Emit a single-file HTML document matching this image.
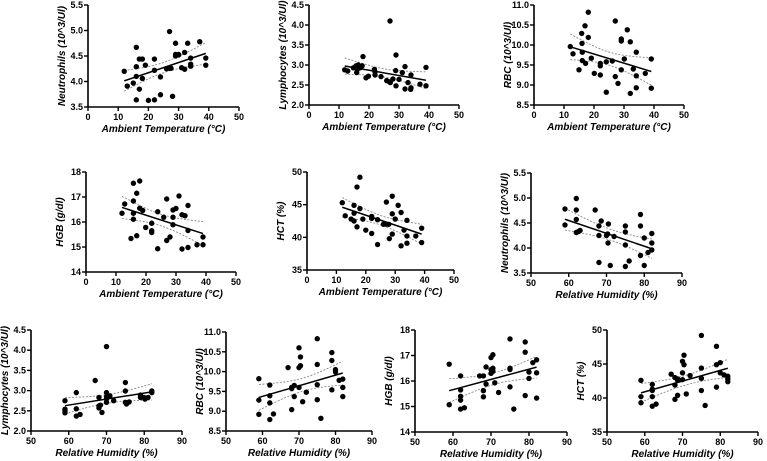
<!DOCTYPE html>
<html><head><meta charset="utf-8">
<style>
html,body{margin:0;padding:0;background:#fff;width:767px;height:461px;overflow:hidden}
svg{display:block}
text{font-family:"Liberation Sans",Arial,sans-serif;fill:#000}
.tick{font-size:9px;font-weight:bold}
.title{font-size:10px;font-weight:bold;font-style:italic}
</style></head>
<body>
<svg id="fig" width="767" height="461" viewBox="0 0 767 461"></svg>
<script>
// ---------- data ----------
const tempTicks=[0,10,20,30,40,50];
const humTicks=[50,60,70,80,90];
const neutTicks=[3.5,4.0,4.5,5.0,5.5];
const lymTicks=[2.0,2.5,3.0,3.5,4.0,4.5];
const rbcTicks=[8.5,9.0,9.5,10.0,10.5,11.0];
const hgbTicks=[14,15,16,17,18];
const hctTicks=[35,40,45,50];

const p1x=[12,13,15,16,16,16,16,17,17,18,18,19,20,22,22,22,24,24,26,27,27,27.5,28,29,29,29,30,30,31,32,32,33,34,34,34,37,39,39];
const p1y=[4.20,3.91,3.97,4.67,4.29,4.10,3.64,3.85,4.44,4.44,4.06,4.32,3.63,4.44,4.22,3.64,4.09,3.74,4.25,4.26,4.98,4.26,3.71,4.75,4.50,4.53,4.53,4.52,4.27,4.24,4.57,4.75,4.46,4.34,4.30,4.78,4.46,4.32];

const p2x=[11.9,12.9,14.8,15.7,15.9,16.1,16.4,17,17.7,18,19,19.8,21.8,22,22,24,25.9,26.8,27,27.1,28,28.9,29,29,30,31.1,32,32,33,33.9,34,34,37,39,39];
const p2y=[2.88,2.85,2.93,2.98,2.81,2.89,3.0,2.93,2.98,3.21,2.68,2.72,2.89,2.83,2.75,2.71,2.61,2.58,4.1,2.56,2.65,2.86,3.25,2.48,2.64,2.81,2.96,2.4,2.56,2.39,2.43,2.75,2.52,2.94,2.48];

const p3x=[12.1,13,15,15.9,16,16.1,16.1,17,17.2,18.1,18.1,19.1,20.1,22.1,22.1,22.1,24.1,24.1,26.1,27.1,27.1,28,29.1,29.1,29.1,30.1,31.1,32.1,32.1,33.1,34.1,34.1,34.1,37.1,39.1,39.1];
const p3y=[9.96,9.78,9.38,10.29,10.04,9.82,9.61,10.48,9.54,10.82,10.19,9.67,9.29,9.54,9.48,9.25,8.82,9.58,9.6,10.6,9.21,9.04,10.15,10.1,9.38,9.65,10.38,10.08,8.79,9.4,9.82,9.23,8.93,9.29,9.65,8.92];

const p4x=[12,12.9,15,15.8,15.8,15.8,15.8,16.9,16.9,17.9,17.9,18.9,19.9,21.9,21.9,21.9,23.9,23.9,25.9,26.9,26.9,28,29,29,29,30,31,32,32,33,34,34,34,37,39,39];
const p4y=[16.35,16.72,15.34,17.55,16.84,16.35,16.11,17.15,15.45,17.64,16.55,16.46,15.78,15.95,15.65,15.58,14.93,16.41,16.19,16.92,15.26,15.4,15.89,16.19,16.48,16.54,17.04,16.29,14.92,16.25,15.66,14.98,16.66,15.09,15.09,15.4];

const p5x=[12,13,15,16,16,16,17,17,18,18,19,20,22,22,22,24,24,26,27,27,27.8,28,29,29,29,30,31,32,32,33,34,34,34,37,39,39];
const p5y=[45.3,43.3,42.8,44.9,43.7,42.5,47.7,41.6,49.2,44.4,42.8,41.1,43.2,42.9,40.6,42.7,38.9,42.0,42.0,45.4,42.0,39.8,46.3,43.6,40.5,42.8,44.9,43.8,38.7,41.1,42.6,40.2,39.1,40.2,41.4,39.2];

const p6x=[59,59,62,62,62,62,62.6,63,67,68,68,68,68.6,70,70.3,70.4,70.5,71,72,75,75,75,75,76,79,79,79,80,80,81,82,82,82];
const p6y=[4.78,4.46,4.99,4.76,4.57,4.31,4.33,4.35,4.76,3.71,4.44,4.25,4.54,4.25,4.28,4.10,4.48,3.65,4.23,4.44,4.32,4.06,3.63,3.74,4.67,4.44,3.85,4.2,3.65,3.91,4.29,4.10,3.96];

const p7x=[59,59,59,59,62,62,62,63,67,68,68,68,68.4,68.8,70,70,70,70,70,70.9,71.9,75,75,75,75.3,76,79,79,79.9,80.2,81,82,82];
const p7y=[2.75,2.54,2.5,2.45,2.95,2.55,2.37,2.41,3.25,2.83,2.62,2.57,2.64,2.46,4.09,2.95,2.79,2.71,2.85,2.87,2.75,3.2,2.99,2.71,2.67,2.72,2.89,2.83,2.83,2.79,2.83,2.99,2.95];

const p8x=[59,59,59,62,62,62,62,63,67,68,68,68,68.7,68.7,70,70,70,70.4,70.4,71,72,75,75,75,75,76,79,79,79,80,80,81,82,82,82];
const p8y=[9.82,9.28,8.92,9.66,9.39,9.21,8.79,8.93,10.1,9.57,9.6,9.04,9.65,9.37,10.6,10.1,9.6,10.37,10.15,9.24,9.48,10.83,10.18,9.67,9.29,8.82,10.48,10.28,9.54,10.05,9.99,9.78,9.81,9.6,9.37];

const p9x=[59,59,62,62,62,62,62,63,67,68,68,68,68.7,68.7,70,70,70,70.5,70.5,70.5,71,72,75,75,75,75,76,79,79,79,80,80,81,82,82,82];
const p9y=[16.66,15.07,16.2,15.65,15.4,15.25,14.9,14.95,16.2,16.2,15.62,15.38,16.55,15.88,16.92,16.3,16.45,17.03,16.5,16.38,15.93,15.55,17.65,16.5,16.45,15.77,14.9,17.53,17.13,15.43,16.35,16.1,16.72,16.83,16.32,15.33];

const p10x=[59,59,59,62,62,62,62,62,63,67,68,68,68,68.7,68.7,68.7,70,70,70,70.4,70.4,71,72,75,75,75,75,76,79,79,79,80,80,81,82,82,82];
const p10y=[42.6,40.2,39.3,42.0,41.3,41.1,40.2,38.8,39.1,43.5,43.0,41.9,39.8,42.8,40.4,42.6,45.4,43.7,42.7,46.3,44.9,40.6,43.3,49.2,44.4,42.9,41.1,38.9,47.6,44.9,41.6,45.2,43.7,43.4,43.2,42.8,42.4];

// ---------- drawing ----------
const NS="http://www.w3.org/2000/svg";
const svg=document.getElementById('fig');
function mk(tag,attrs,parent){const e=document.createElementNS(NS,tag);for(const k in attrs)e.setAttribute(k,attrs[k]);(parent||svg).appendChild(e);return e;}

function panel(id,g,xs,ys,xt,yt,xTitle,yTitle,yDec){
  const grp=mk('g',{});
  
  
  const xmin=xt[0],xmax=xt[xt.length-1],ymin=yt[0],ymax=yt[yt.length-1];
  const sx=v=>g.x0+(v-xmin)/(xmax-xmin)*(g.x1-g.x0);
  const sy=v=>g.yb-(v-ymin)/(ymax-ymin)*(g.yb-g.yt);
  // axes
  const ax=mk('path',{d:`M${g.x0},${g.yt}V${g.yb}H${g.x1}`,stroke:'#000','stroke-width':1.6,fill:'none'},grp);
  
  
  xt.forEach(v=>{
    mk('line',{x1:sx(v),x2:sx(v),y1:g.yb,y2:g.yb+4,stroke:'#000','stroke-width':1.4},grp);
    const t=mk('text',{x:sx(v),y:g.yb+13,'text-anchor':'middle',class:'tick'},grp);
    t.textContent=v;
    
    
  });
  yt.forEach(v=>{
    mk('line',{x1:g.x0-4,x2:g.x0,y1:sy(v),y2:sy(v),stroke:'#000','stroke-width':1.4},grp);
    const t=mk('text',{x:g.x0-5,y:sy(v)+3,'text-anchor':'end',class:'tick'},grp);
    t.textContent=yDec?v.toFixed(1):v;
    
    
  });
  const xtl=mk('text',{x:(g.x0+g.x1)/2,y:g.yb+25,'text-anchor':'middle',class:'title'},grp);
  xtl.textContent=xTitle;
  
  
  const cy=(g.yt+g.yb)/2, cx=g.x0-23;
  const ytl=mk('text',{x:cx,y:cy,'text-anchor':'middle',class:'title',transform:`rotate(-90 ${cx} ${cy})`},grp);
  ytl.textContent=yTitle;
  
  
  // regression + 95% CI
  const n=xs.length;
  const mx=xs.reduce((a,b)=>a+b,0)/n, my=ys.reduce((a,b)=>a+b,0)/n;
  let sxx=0,sxy=0;for(let i=0;i<n;i++){sxx+=(xs[i]-mx)**2;sxy+=(xs[i]-mx)*(ys[i]-my);}
  const b=sxy/sxx,a=my-b*mx;
  let sse=0;for(let i=0;i<n;i++){sse+=(ys[i]-a-b*xs[i])**2;}
  const s=Math.sqrt(sse/(n-2)),tc=2.03;
  const lo=Math.min(...xs),hi=Math.max(...xs);
  let up='',dn='';
  for(let k=0;k<=30;k++){
    const x=lo+(hi-lo)*k/30,yh=a+b*x,h=tc*s*Math.sqrt(1/n+(x-mx)**2/sxx);
    up+=(k?'L':'M')+sx(x).toFixed(1)+','+sy(yh+h).toFixed(1);
    dn+=(k?'L':'M')+sx(x).toFixed(1)+','+sy(yh-h).toFixed(1);
  }
  const cu=mk('path',{d:up,stroke:'#888','stroke-width':0.9,fill:'none','stroke-dasharray':'2,1.5'},grp);
  
  
  const cd=mk('path',{d:dn,stroke:'#888','stroke-width':0.9,fill:'none','stroke-dasharray':'2,1.5'},grp);
  
  
  const rl=mk('line',{x1:sx(lo),y1:sy(a+b*lo),x2:sx(hi),y2:sy(a+b*hi),stroke:'#000','stroke-width':1.5},grp);
  
  
  for(let i=0;i<n;i++){
    const c=mk('circle',{cx:sx(xs[i]),cy:sy(ys[i]),r:2.7,fill:'#000'},grp);
    
    
  }
}
const TA='Ambient Temperature (°C)',RH='Relative Humidity (%)';
const NEU='Neutrophils (10^3/Ul)',LYM='Lymphocytes (10^3/Ul)',RBC='RBC (10^3/Ul)';
panel('neutrophils-temp',{x0:88,x1:239,yt:5,yb:107},p1x,p1y,tempTicks,neutTicks,TA,NEU,true);
panel('lymphocytes-temp',{x0:309,x1:459,yt:5,yb:105},p2x,p2y,tempTicks,lymTicks,TA,LYM,true);
panel('rbc-temp',{x0:534,x1:684,yt:5,yb:105},p3x,p3y,tempTicks,rbcTicks,TA,RBC,true);
panel('hgb-temp',{x0:86,x1:236,yt:172,yb:272},p4x,p4y,tempTicks,hgbTicks,TA,'HGB (g/dl)',false);
panel('hct-temp',{x0:307,x1:454,yt:172,yb:270},p5x,p5y,tempTicks,hctTicks,TA,'HCT (%)',false);
panel('neutrophils-humidity',{x0:531,x1:682,yt:173,yb:273},p6x,p6y,humTicks,neutTicks,RH,NEU,true);
panel('lymphocytes-humidity',{x0:31,x1:182,yt:330,yb:431},p7x,p7y,humTicks,lymTicks,RH,LYM,true);
panel('rbc-humidity',{x0:226,x1:372,yt:332,yb:431},p8x,p8y,humTicks,rbcTicks,RH,RBC,true);
panel('hgb-humidity',{x0:415,x1:567,yt:330,yb:432},p9x,p9y,humTicks,hgbTicks,RH,'HGB (g/dl)',false);
panel('hct-humidity',{x0:607,x1:758,yt:330,yb:432},p10x,p10y,humTicks,hctTicks,RH,'HCT (%)',false);
</script>
</body></html>
